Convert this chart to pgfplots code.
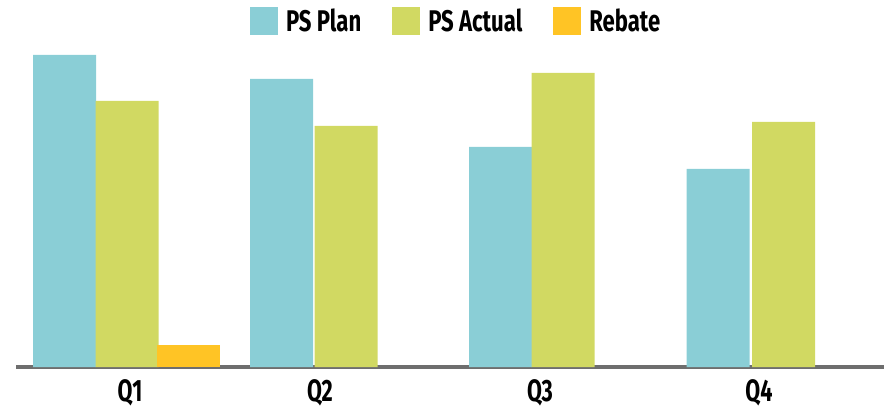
\documentclass[border=0pt]{standalone}
\usepackage{pgfplots}
\pgfplotsset{compat=1.18}
\usepackage{fontspec}
\setmainfont{Fira Sans}[FakeStretch=0.7]
\newfontfamily\legfont{Fira Sans}[FakeStretch=0.74]
\definecolor{plan}{RGB}{138,206,214}
\definecolor{actual}{RGB}{209,217,98}
\definecolor{rebate}{RGB}{255,196,37}
\definecolor{axgray}{RGB}{110,110,110}
\begin{document}
\begin{tikzpicture}
\begin{axis}[
  name=ax,
  scale only axis,
  width=868bp, height=322bp,
  xmin=16, xmax=884, ymin=0, ymax=322,
  ybar, bar shift=0pt, bar width=63,
  axis x line*=bottom, axis y line=none,
  x axis line style={draw=axgray, line width=3.5bp, -},
  xtick={130,320,540,759},
  xticklabels={Q1,Q2,Q3,Q4},
  major tick length=0pt,
  xticklabel style={font=\fontsize{31}{36}\selectfont\bfseries, yshift=-9bp},
  ytick=\empty,
  clip=false,
  legend columns=3,
  legend style={draw=none, at={(0.506,1)}, anchor=south, yshift=10bp,
    inner sep=0pt, font=\legfont\fontsize{30}{36}\selectfont\bfseries,
    nodes={inner sep=0pt},
    /tikz/every odd column/.append style={column sep=8bp},
    /tikz/every even column/.append style={column sep=31bp}},
  legend image code/.code={\fill[#1] (0bp,-14bp) rectangle (28bp,14bp);},
]
\addplot[fill=plan, draw=none] coordinates {(64.5,312) (281.5,288) (500.5,220) (718,198)};
\addplot[fill=actual, draw=none] coordinates {(127,266) (346,241) (563,294) (783.5,245)};
\addplot[fill=rebate, draw=none] coordinates {(188.5,22)};
\legend{PS Plan, PS Actual, Rebate}
\end{axis}
\pgfresetboundingbox
\path ([shift={(-16bp,-42bp)}]ax.south west) rectangle ([shift={(0bp,45bp)}]ax.north east);
\end{tikzpicture}
\end{document}
